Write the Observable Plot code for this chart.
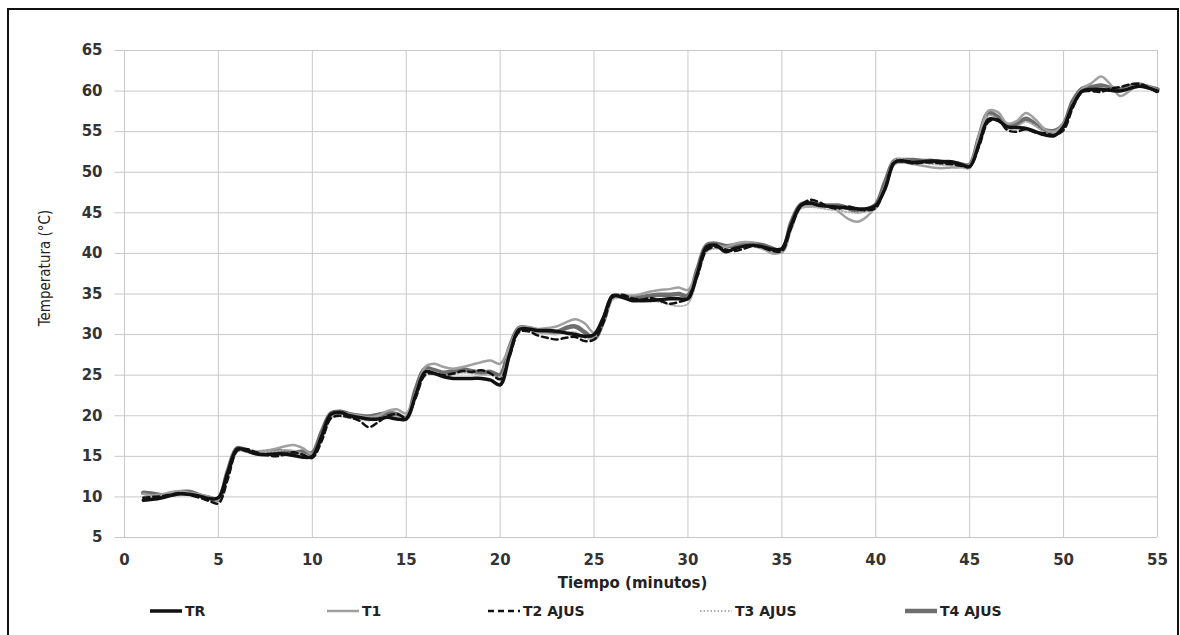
<!DOCTYPE html>
<html>
<head>
<meta charset="utf-8">
<script src="https://cdn.jsdelivr.net/npm/d3@7"></script>
<script src="https://cdn.jsdelivr.net/npm/@observablehq/plot@0.6"></script>
<style>
  html, body { margin: 0; padding: 0; background: #fff; }
  body { width: 1180px; height: 635px; position: relative; overflow: hidden; font-family: "DejaVu Sans", sans-serif; }
  #frame { position: absolute; left: 7px; top: 8px; width: 1172px; height: 630px; border: 2px solid #111; box-sizing: border-box; }
  #chart { position: absolute; left: 0; top: 0; }
  #xlabel { position: absolute; top: 574px; left: 0; width: 1265px; text-align: center; font: bold 15px "DejaVu Sans", sans-serif; color: #222; }
  .leg { position: absolute; top: 603px; display: flex; align-items: center; font: bold 14px "DejaVu Sans", sans-serif; color: #222; }
  .leg svg { margin-right: 3px; }
</style>
</head>
<body>
<div id="frame"></div>
<div id="chart"></div>
<div id="xlabel">Tiempo (minutos)</div>
<div id="legend"></div>
<script>
// time in minutes (1 to 55, every half minute)
const tiempo = d3.range(1, 55.001, 0.5);
const yTicks = [5, 10, 15, 20, 25, 30, 35, 40, 45, 50, 55, 60, 65];
const xTicks = [0, 5, 10, 15, 20, 25, 30, 35, 40, 45, 50, 55];

const TR = [
  9.6, 9.7, 9.9, 10.2, 10.4, 10.3, 10.1, 9.8, 9.9, 13.0,
  15.9, 15.7, 15.3, 15.2, 15.3, 15.3, 15.1, 14.9, 15.0, 17.5,
  20.2, 20.4, 20.0, 19.8, 19.6, 19.6, 19.8, 19.6, 19.6, 22.5,
  25.4, 25.2, 24.8, 24.6, 24.6, 24.6, 24.6, 24.4, 23.8, 27.5,
  30.6, 30.7, 30.5, 30.5, 30.4, 30.2, 30.0, 29.8, 30.0, 32.1,
  34.8, 34.6, 34.2, 34.2, 34.2, 34.3, 34.4, 34.4, 34.4, 37.5,
  40.8, 41.0, 40.2, 40.6, 40.9, 41.0, 40.8, 40.5, 40.6, 43.5,
  45.9, 46.2, 45.9, 45.8, 45.7, 45.6, 45.5, 45.5, 45.9, 48.0,
  51.2, 51.4, 51.2, 51.3, 51.4, 51.3, 51.3, 51.0, 50.7, 53.5,
  56.5, 56.4, 55.6, 55.5, 55.4, 55.0, 54.6, 54.5, 55.6, 58.3,
  60.0, 60.2, 60.2, 60.1, 60.0, 60.3, 60.6, 60.4, 60.0
];
const T1 = [
  10.4, 10.2, 10.3, 10.6, 10.7, 10.5, 10.3, 10.0, 9.7, 12.5,
  15.6, 15.8, 15.6, 15.7, 15.9, 16.2, 16.4, 16.0, 15.3, 17.2,
  19.8, 20.3, 20.2, 20.0, 19.8, 20.0, 20.6, 20.8, 20.3, 22.8,
  26.0, 26.4, 26.0, 25.8, 26.0, 26.3, 26.6, 26.8, 26.4, 28.5,
  30.8, 30.9, 30.7, 30.8, 31.0, 31.5, 31.9, 31.4, 30.2, 31.8,
  34.5, 34.9, 34.8, 35.0, 35.3, 35.5, 35.6, 35.8, 35.5, 37.8,
  40.6, 41.0, 40.8, 41.2, 41.4, 41.3, 40.6, 40.0, 40.2, 43.0,
  45.6, 45.8, 45.9, 46.0, 45.2, 44.3, 43.9, 44.5, 45.8, 48.3,
  51.0, 51.2, 51.0, 50.8, 50.6, 50.5, 50.6, 50.6, 50.9, 54.5,
  57.6, 57.4, 56.0, 56.3, 57.3, 56.5, 55.3, 55.0, 56.0, 58.5,
  60.3, 61.0, 61.8, 60.8, 59.4, 60.0, 60.8, 60.6, 60.1
];
const T2 = [
  9.9, 10.0, 10.1, 10.3, 10.5, 10.2, 9.9, 9.5, 9.2, 12.2,
  15.7, 15.9, 15.5, 15.2, 15.0, 15.2, 15.5, 15.2, 14.8, 16.9,
  19.7, 20.0, 19.8, 19.4, 18.6, 19.2, 20.0, 20.2, 19.8, 22.2,
  25.0, 25.2, 25.0, 25.2, 25.5, 25.4, 25.6, 25.2, 24.5, 27.3,
  30.3, 30.4, 29.9, 29.6, 29.4, 29.6, 29.7, 29.2, 29.4, 31.5,
  34.6, 34.9, 34.5, 34.3, 34.5, 34.2, 33.8, 34.0, 34.5, 37.2,
  40.4, 40.8, 40.5, 40.3, 40.6, 40.9, 40.7, 40.3, 40.3, 43.2,
  45.8, 46.6, 46.3, 45.7, 45.5, 45.8, 45.5, 45.3, 45.6, 48.2,
  51.3, 51.3, 51.1, 51.2, 51.2, 51.1, 51.0, 50.8, 50.7, 53.2,
  56.2, 56.5, 55.2, 55.0, 55.3, 54.9, 54.8, 54.6, 55.2, 58.0,
  59.9, 60.0, 59.9, 60.3, 60.5, 60.8, 60.9, 60.5, 59.8
];
const T3 = [
  10.0, 9.8, 10.0, 10.1, 10.2, 10.3, 10.0, 9.7, 9.6, 12.8,
  15.6, 15.6, 15.4, 15.5, 15.6, 15.8, 15.7, 15.3, 15.1, 17.8,
  19.9, 19.9, 19.7, 19.6, 19.4, 19.6, 19.9, 19.9, 19.9, 22.9,
  25.6, 25.4, 25.0, 25.1, 25.3, 25.2, 25.0, 25.0, 24.8, 28.0,
  30.4, 30.5, 30.2, 30.1, 30.0, 30.2, 30.3, 29.6, 29.6, 32.0,
  34.3, 34.5, 34.2, 34.0, 34.1, 34.0, 33.7, 33.5, 33.8, 37.0,
  40.2, 40.6, 40.4, 40.6, 40.9, 40.8, 40.5, 40.2, 40.4, 43.3,
  45.5, 45.7, 45.6, 45.4, 45.3, 45.1, 45.0, 45.2, 45.5, 48.5,
  51.5, 51.6, 51.3, 51.2, 51.0, 50.9, 50.8, 50.6, 50.5, 54.0,
  57.0, 56.5, 55.3, 55.6, 56.2, 55.7, 54.9, 54.8, 55.5, 58.6,
  60.1, 60.2, 60.4, 60.2, 60.0, 60.5, 60.7, 60.3, 59.9
];
const T4 = [
  10.5, 10.4, 10.2, 10.4, 10.6, 10.6, 10.2, 9.9, 9.7, 13.2,
  16.0, 15.7, 15.4, 15.5, 15.7, 15.6, 15.4, 15.6, 15.4, 18.0,
  20.3, 20.5, 20.2, 20.0, 19.9, 20.1, 20.3, 20.2, 19.7, 23.2,
  25.8, 25.6, 25.3, 25.5, 25.7, 25.5, 25.3, 25.4, 25.0, 28.4,
  30.8, 30.8, 30.5, 30.4, 30.3, 30.8, 31.0, 30.3, 29.5, 31.7,
  34.7, 34.7, 34.5, 34.6, 34.8, 34.9, 34.9, 35.0, 34.8, 38.0,
  41.0, 41.2, 40.9, 41.0, 41.2, 41.2, 41.0, 40.6, 40.3, 43.8,
  46.0, 46.2, 46.0, 45.9, 45.9, 45.6, 45.2, 45.4, 46.0, 48.8,
  51.4, 51.5, 51.5, 51.4, 51.4, 51.3, 51.2, 51.0, 50.9, 54.3,
  57.3, 56.8, 55.8, 55.9, 56.6, 55.9, 55.2, 55.1, 55.9, 58.8,
  60.3, 60.5, 60.7, 60.4, 60.2, 60.6, 60.8, 60.5, 60.2
];

const seriesNames = ["TR", "T1", "T2 AJUS", "T3 AJUS", "T4 AJUS"];
const seriesValues = [TR, T1, T2, T3, T4];
const styles = {
  "TR":      {stroke: "#111", strokeWidth: 3.5, dash: null},
  "T1":      {stroke: "#a0a0a0", strokeWidth: 2.5, dash: null},
  "T2 AJUS": {stroke: "#111", strokeWidth: 2.5, dash: "6,4"},
  "T3 AJUS": {stroke: "#b0b0b0", strokeWidth: 1.8, dash: "1.5,2"},
  "T4 AJUS": {stroke: "#6e6e6e", strokeWidth: 4.5, dash: null}
};
const rows = (i) => tiempo.map((t, k) => ({t, v: seriesValues[i][k]})).filter(d => d.v != null);
const drawOrder = [4, 1, 3, 0, 2];

const font = "DejaVu Sans, sans-serif";
const chart = Plot.plot({
  width: 1180,
  height: 595,
  marginLeft: 124,
  marginRight: 23,
  marginTop: 50,
  marginBottom: 58,
  style: {fontFamily: font, fontSize: "15px", fontWeight: "bold", color: "#333", background: "transparent"},
  x: {domain: [0, 55], ticks: xTicks},
  y: {domain: [5, 65], ticks: yTicks},
  marks: [
    Plot.gridX(xTicks, {stroke: "#c8c8c8", strokeOpacity: 1, strokeWidth: 1}),
    Plot.gridY(yTicks, {stroke: "#c8c8c8", strokeOpacity: 1, strokeWidth: 1, x1: -0.5, x2: 55}),
    Plot.axisY(yTicks, {tickSize: 0, tickPadding: 22, label: null, fill: "#333"}),
    Plot.axisX(xTicks, {tickSize: 0, tickPadding: 17, label: null, fill: "#333"}),
    ...drawOrder.map(i => {
      const s = styles[seriesNames[i]];
      return Plot.line(rows(i), {x: "t", y: "v", stroke: s.stroke, strokeWidth: s.strokeWidth,
        strokeDasharray: s.dash, curve: "catmull-rom", strokeLinejoin: "round"});
    })
  ]
});
document.getElementById("chart").appendChild(chart);

// y axis title
d3.select(chart).append("text")
  .attr("transform", "translate(45,268) rotate(-90)")
  .attr("text-anchor", "middle")
  .attr("dominant-baseline", "middle")
  .style("font", "15px 'DejaVu Sans Condensed', 'DejaVu Sans', sans-serif")
  .attr("fill", "#222")
  .text("Temperatura (°C)");

// legend
const legX = [150, 327, 488, 700, 905];
const legend = document.getElementById("legend");
seriesNames.forEach((name, i) => {
  const s = styles[name];
  const item = document.createElement("div");
  item.className = "leg";
  item.style.left = legX[i] + "px";
  const sw = d3.create("svg").attr("width", 32).attr("height", 12);
  sw.append("line").attr("x1", 0).attr("x2", 32).attr("y1", 6).attr("y2", 6)
    .attr("stroke", s.stroke).attr("stroke-width", s.strokeWidth)
    .attr("stroke-dasharray", s.dash);
  item.appendChild(sw.node());
  const tx = document.createElement("span");
  tx.textContent = name;
  item.appendChild(tx);
  legend.appendChild(item);
});
</script>
</body>
</html>
